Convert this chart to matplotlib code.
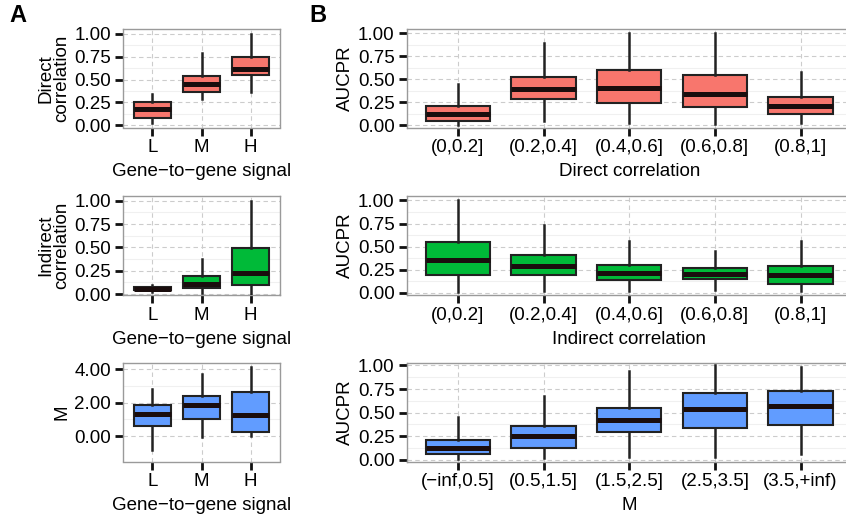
import matplotlib
matplotlib.use('Agg')
import matplotlib.pyplot as plt
from matplotlib.ticker import FixedLocator

plt.rcParams['font.family'] = ['Liberation Sans', 'DejaVu Sans']

# ---- data ----
signal_cats = ['L', 'M', 'H']
corr_cats = ['(0,0.2]', '(0.2,0.4]', '(0.4,0.6]', '(0.6,0.8]', '(0.8,1]']
m_cats = ['(\u2212inf,0.5]', '(0.5,1.5]', '(1.5,2.5]', '(2.5,3.5]', '(3.5,+inf)']

# each series: whisker low, Q1, median, Q3, whisker high
direct_lo = [0.03, 0.29, 0.36]
direct_q1 = [0.08, 0.36, 0.55]
direct_med = [0.18, 0.45, 0.615]
direct_q3 = [0.26, 0.54, 0.74]
direct_hi = [0.34, 0.79, 1.00]

indirect_lo = [0.02, 0.01, 0.00]
indirect_q1 = [0.04, 0.07, 0.095]
indirect_med = [0.055, 0.105, 0.23]
indirect_q3 = [0.075, 0.195, 0.495]
indirect_hi = [0.10, 0.38, 1.00]

m_lo = [-0.83, -0.04, -0.02]
m_q1 = [0.59, 1.03, 0.24]
m_med = [1.35, 1.88, 1.29]
m_q3 = [1.88, 2.43, 2.63]
m_hi = [2.81, 3.70, 4.15]

auc_direct_lo = [0.01, 0.05, 0.03, 0.02, 0.03]
auc_direct_q1 = [0.05, 0.29, 0.245, 0.20, 0.12]
auc_direct_med = [0.12, 0.395, 0.41, 0.34, 0.215]
auc_direct_q3 = [0.215, 0.53, 0.60, 0.55, 0.305]
auc_direct_hi = [0.45, 0.89, 1.00, 1.00, 0.585]

auc_indirect_lo = [0.01, 0.02, 0.025, 0.035, 0.025]
auc_indirect_q1 = [0.19, 0.19, 0.137, 0.15, 0.10]
auc_indirect_med = [0.36, 0.295, 0.216, 0.21, 0.198]
auc_indirect_q3 = [0.547, 0.414, 0.306, 0.27, 0.288]
auc_indirect_hi = [1.00, 0.737, 0.557, 0.45, 0.557]

auc_m_lo = [0.01, 0.02, 0.025, 0.025, 0.06]
auc_m_q1 = [0.06, 0.13, 0.29, 0.34, 0.37]
auc_m_med = [0.127, 0.25, 0.42, 0.535, 0.57]
auc_m_q3 = [0.213, 0.36, 0.55, 0.705, 0.73]
auc_m_hi = [0.45, 0.68, 0.94, 1.00, 0.98]

RED = '#F8766D'
GREEN = '#00BA38'
BLUE = '#619CFF'

W, H = 846, 519
fig = plt.figure(figsize=(W / 100, H / 100), dpi=100)


def px_axes(left, top, right, bottom):
    return fig.add_axes([left / W, 1 - bottom / H, (right - left) / W, (bottom - top) / H])


def box_panel(ax, cats, lo, q1, med, q3, hi, color, ylim, yticks, yfmt,
              ylabel, xlabel):
    stats = []
    for i in range(len(cats)):
        stats.append(dict(whislo=lo[i], q1=q1[i], med=med[i], q3=q3[i],
                          whishi=hi[i], fliers=[]))
    pos = list(range(1, len(cats) + 1))
    ax.bxp(stats, positions=pos, widths=0.75, showcaps=False, showfliers=False,
           patch_artist=True,
           boxprops=dict(facecolor=color, edgecolor='#222222', linewidth=1.5),
           whiskerprops=dict(color='#222222', linewidth=1.8),
           medianprops=dict(color='#1a0d0d', linewidth=3.6, solid_capstyle='butt'),
           zorder=3)
    ax.set_xlim(0.4, len(cats) + 0.6)
    ax.set_ylim(*ylim)
    ax.set_xticks(pos)
    ax.set_xticklabels(cats)
    ax.set_yticks(yticks)
    ax.set_yticklabels([yfmt.format(v) for v in yticks])
    minors = [(a + b) / 2 for a, b in zip(yticks[:-1], yticks[1:])]
    ax.yaxis.set_minor_locator(FixedLocator(minors))
    ax.tick_params(which='minor', length=0)
    ax.grid(True, which='major', color='#cccccc', linestyle=(0, (4, 3)), linewidth=0.8)
    ax.grid(True, which='minor', axis='y', color='#f0f0f0', linestyle='-', linewidth=0.8)
    ax.set_axisbelow(True)
    for s in ax.spines.values():
        s.set_color('#9a9a9a')
        s.set_linewidth(1.0)
    ax.tick_params(which='major', direction='out', length=6, width=2.0,
                   color='#111111', labelsize=13.5, labelcolor='black', pad=2.5)
    ax.set_ylabel(ylabel, fontsize=13.5, linespacing=0.9, labelpad=3)
    ax.set_xlabel(xlabel, fontsize=13.5, labelpad=5)


rows = [(29.3, 127.5), (196, 295), (363, 461.5)]
A_l, A_r = 123, 280
B_l, B_r = 406.5, 852

prob_ticks = [0.0, 0.25, 0.5, 0.75, 1.0]
sig_x = 'Gene\u2212to\u2212gene signal'

ax = px_axes(A_l, rows[0][0], A_r, rows[0][1])
box_panel(ax, signal_cats, direct_lo, direct_q1, direct_med, direct_q3, direct_hi,
          RED, (-0.022, 1.046), prob_ticks, '{:.2f}', 'Direct\ncorrelation', sig_x)

ax = px_axes(A_l, rows[1][0], A_r, rows[1][1])
box_panel(ax, signal_cats, indirect_lo, indirect_q1, indirect_med, indirect_q3,
          indirect_hi, GREEN, (-0.01, 1.05), prob_ticks, '{:.2f}',
          'Indirect\ncorrelation', sig_x)

ax = px_axes(A_l, rows[2][0], A_r, rows[2][1])
box_panel(ax, signal_cats, m_lo, m_q1, m_med, m_q3, m_hi, BLUE, (-1.52, 4.39),
          [0.0, 2.0, 4.0], '{:.2f}', 'M', sig_x)

ax = px_axes(B_l, rows[0][0], B_r, rows[0][1])
box_panel(ax, corr_cats, auc_direct_lo, auc_direct_q1, auc_direct_med,
          auc_direct_q3, auc_direct_hi, RED, (-0.022, 1.043), prob_ticks,
          '{:.2f}', 'AUCPR', 'Direct correlation')

ax = px_axes(B_l, rows[1][0], B_r, rows[1][1])
box_panel(ax, corr_cats, auc_indirect_lo, auc_indirect_q1, auc_indirect_med,
          auc_indirect_q3, auc_indirect_hi, GREEN, (-0.022, 1.047), prob_ticks,
          '{:.2f}', 'AUCPR', 'Indirect correlation')

ax = px_axes(B_l, rows[2][0], B_r, rows[2][1])
box_panel(ax, m_cats, auc_m_lo, auc_m_q1, auc_m_med, auc_m_q3, auc_m_hi, BLUE,
          (-0.018, 1.026), prob_ticks, '{:.2f}', 'AUCPR', 'M')

fig.text(9 / W, 1 - 15 / H, 'A', fontsize=17, fontweight='bold', va='center')
fig.text(309 / W, 1 - 15 / H, 'B', fontsize=17, fontweight='bold', va='center')

fig.savefig('out.png', dpi=100)
